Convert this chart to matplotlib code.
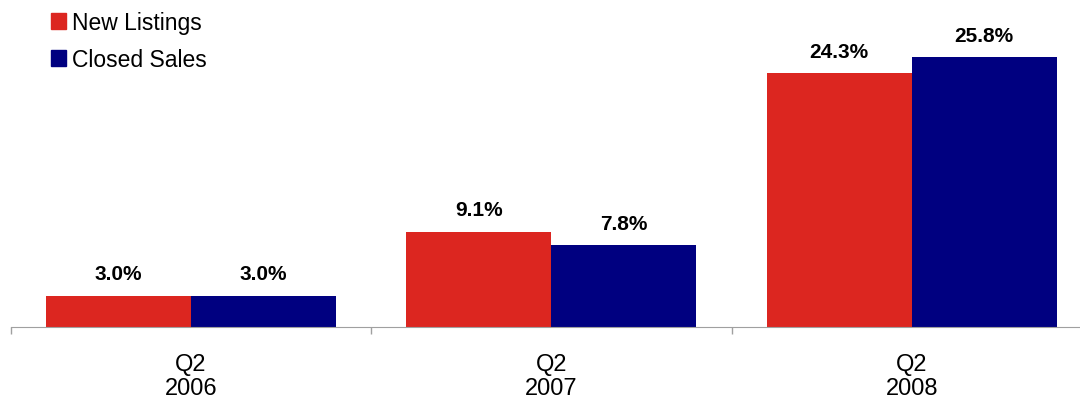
import matplotlib
matplotlib.use("Agg")
import matplotlib.pyplot as plt
import numpy as np
from matplotlib.patches import Patch

plt.rcParams["font.family"] = ["Liberation Sans", "DejaVu Sans"]

categories = ["Q2\n2006", "Q2\n2007", "Q2\n2008"]
new_listings = [3.0, 9.1, 24.3]
closed_sales = [3.0, 7.8, 25.8]
series_names = ["New Listings", "Closed Sales"]
colors = ["#DC2620", "#000080"]

fig = plt.figure(figsize=(10.8, 4.02), dpi=100)
# axes run a little past the right edge, as in the source image
ax = fig.add_axes([10.5 / 1080, 74 / 402, 1081.5 / 1080, 313.5 / 402])

x = np.arange(len(categories))
w = 0.402
bars1 = ax.bar(x - w / 2, new_listings, w, color=colors[0])
bars2 = ax.bar(x + w / 2, closed_sales, w, color=colors[1])

for bars, vals in ((bars1, new_listings), (bars2, closed_sales)):
    for b, v in zip(bars, vals):
        ax.annotate(f"{v:.1f}%", (b.get_x() + b.get_width() / 2, v),
                    xytext=(0, 9), textcoords="offset points",
                    ha="center", va="bottom", fontsize=15, fontweight="bold")

ax.set_xlim(-0.5, len(categories) - 0.5)
ax.set_ylim(0, 30)
ax.set_xticks(x)
ax.set_xticklabels(categories, fontsize=17, linespacing=1.15)
ax.tick_params(axis="x", length=0, pad=18.5)
ax.set_xticks(np.arange(len(categories) + 1) - 0.5, minor=True)
ax.tick_params(axis="x", which="minor", length=5, color="#A0A0A0", width=1)
ax.set_yticks([])
for s in ("top", "right", "left"):
    ax.spines[s].set_visible(False)
ax.spines["bottom"].set_color("#A0A0A0")

handles = [Patch(color=c) for c in colors]
fig.legend(handles, series_names, loc="upper left",
           bbox_to_anchor=(51 / 1080, 1 - 12 / 402), frameon=False,
           fontsize=16.5, handlelength=0.66, handleheight=0.66,
           handletextpad=0.27, labelspacing=0.62, borderpad=0,
           borderaxespad=0)

fig.savefig("out.png", dpi=100)
